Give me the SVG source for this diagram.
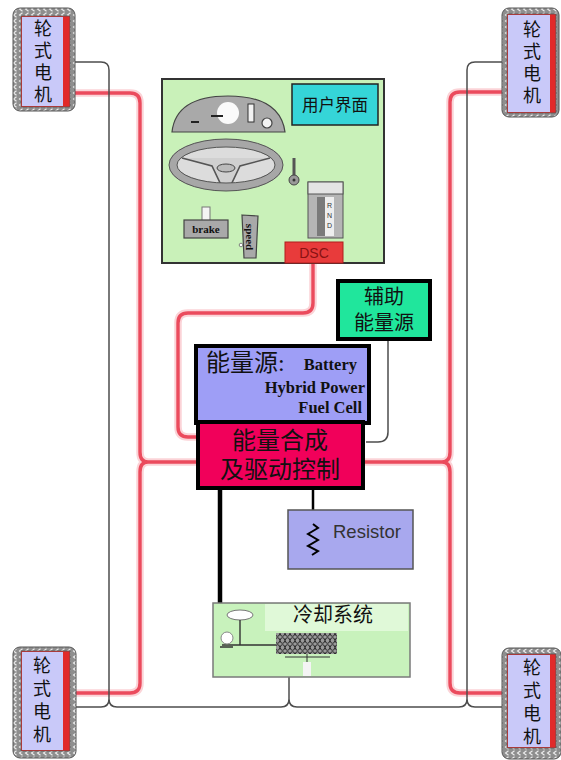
<svg xmlns="http://www.w3.org/2000/svg" width="561" height="760" viewBox="0 0 561 760">
  <defs>
    <style>
      .halo{fill:none;stroke:#fbd3d7;stroke-width:7.5;stroke-linejoin:round}
      .red{fill:none;stroke:#eb4b5d;stroke-width:3.4;stroke-linejoin:round}
      .gray{fill:none;stroke:#4d4d4d;stroke-width:1.5}
      .blk{fill:none;stroke:#000}
      .cjk{font-family:"Liberation Serif","Noto Sans CJK SC","Noto Sans CJK TC",serif;fill:#111}
      .ser{font-family:"Liberation Serif",serif;font-weight:bold;fill:#111}
      .sans{font-family:"Liberation Sans",Arial,sans-serif}
      .frame{fill:url(#chain);stroke:#555;stroke-width:1}
      .lav{fill:#c9c9f9}
      .strip{fill:#e12a2a}
      .mtxt{font-size:18px;writing-mode:vertical-rl;letter-spacing:4px}
      .box{stroke:#000;stroke-width:4}
    </style>
    <pattern id="chain" width="6" height="6" patternUnits="userSpaceOnUse">
      <rect width="6" height="6" fill="#8e8e8e"/>
      <path d="M4.5 0.8 L1.5 3 L4.5 5.2" fill="none" stroke="#ececec" stroke-width="1.1"/>
    </pattern>
    <pattern id="coil" width="5" height="7" patternUnits="userSpaceOnUse">
      <rect width="5" height="7" fill="#9a9a9a"/>
      <ellipse cx="2.5" cy="3.5" rx="2.2" ry="2.8" fill="none" stroke="#2a2a2a" stroke-width="1"/>
    </pattern>
  </defs>

  <rect width="561" height="760" fill="#ffffff"/>

  <!-- wiring -->
  <g id="connectors">
    <!-- power bus, left -->
    <path class="halo" d="M70 93 H130 Q140 93 140 103 V452 Q140 462 148 462 Q140 462 140 472 V683 Q140 693 130 693 H70 M148 462 H198"/>
    <path class="red" d="M70 93 H130 Q140 93 140 103 V452 Q140 462 148 462 Q140 462 140 472 V683 Q140 693 130 693 H70 M148 462 H198"/>
    <!-- power bus, right -->
    <path class="halo" d="M505 92 H460 Q450 92 450 102 V452 Q450 462 442 462 Q450 462 450 472 V683 Q450 693 460 693 H505 M442 462 H363"/>
    <path class="red" d="M505 92 H460 Q450 92 450 102 V452 Q450 462 442 462 Q450 462 450 472 V683 Q450 693 460 693 H505 M442 462 H363"/>
    <!-- DSC signal to drive control -->
    <path class="halo" d="M313 263 V303 Q313 313 303 313 H188 Q178 313 178 323 V427 Q178 437 188 437 H198"/>
    <path class="red" d="M313 263 V303 Q313 313 303 313 H188 Q178 313 178 323 V427 Q178 437 188 437 H198"/>

    <!-- signal lines -->
    <path class="gray" d="M75 62 H101 Q109 62 109 70 V699 Q109 707 101 707 H75 M109 699 Q109 707 117 707 H281 Q289 707 289 699 V677 M289 699 Q289 707 297 707 H459 Q467 707 467 699 Q467 707 475 707 H503 M467 699 V70 Q467 62 475 62 H503"/>
    <path class="gray" d="M388 340 V432 Q388 442 378 442 H366" stroke-width="1.8"/>

    <!-- drive control to cooling and resistor -->
    <path class="blk" d="M220 488 V603" stroke-width="4.5"/>
    <path class="blk" d="M313 488 V524" stroke-width="2.5"/>
  </g>

  <!-- wheel motors -->
  <g id="motor-top-left">
    <rect class="frame" x="13" y="8" width="62" height="103" rx="7"/>
    <rect class="strip" x="21" y="16" width="49" height="91" stroke="#555" stroke-width="0.8"/>
    <rect class="lav" x="22" y="17" width="41" height="89"/>
    <text class="cjk mtxt" x="41" y="19">轮式电机</text>
  </g>
  <g id="motor-bottom-left">
    <rect class="frame" x="13" y="647" width="63" height="111" rx="7"/>
    <rect class="strip" x="21" y="651" width="49" height="100" stroke="#555" stroke-width="0.8"/>
    <rect class="lav" x="22" y="652" width="41" height="98"/>
    <text class="cjk mtxt" x="40" y="656" style="letter-spacing:5px">轮式电机</text>
  </g>
  <g id="motor-top-right">
    <rect class="frame" x="502" y="8" width="57" height="109" rx="7"/>
    <rect class="strip" x="507" y="14" width="49" height="99" stroke="#555" stroke-width="0.8"/>
    <rect class="lav" x="508" y="15" width="42" height="97"/>
    <text class="cjk mtxt" x="530" y="20">轮式电机</text>
  </g>
  <g id="motor-bottom-right">
    <rect class="frame" x="502" y="648" width="59" height="111" rx="7"/>
    <rect class="strip" x="507" y="654" width="49" height="94" stroke="#555" stroke-width="0.8"/>
    <rect class="lav" x="508" y="655" width="42" height="92"/>
    <text class="cjk mtxt" x="530" y="658" style="letter-spacing:5px">轮式电机</text>
  </g>

  <!-- driver interface panel -->
  <g id="user-interface">
    <rect x="162" y="79" width="222" height="184" fill="#c9f1b9" stroke="#333" stroke-width="2"/>
    <!-- instrument cluster -->
    <path d="M172 132 Q176 96 228 96 Q280 96 285 132 Z" fill="#a9a9a9" stroke="#444" stroke-width="1.2"/>
    <circle cx="228" cy="113" r="11" fill="#fafafa"/>
    <path d="M211 116 H223 M191 122 H199" stroke="#222" stroke-width="2"/>
    <rect x="248" y="104" width="6" height="18" fill="#f2f2f2" stroke="#333" stroke-width="1"/>
    <circle cx="267" cy="123" r="5" fill="#f2f2f2" stroke="#444" stroke-width="1.2"/>
    <!-- steering wheel -->
    <ellipse cx="226" cy="165" rx="49" ry="18" fill="#dcdcdc"/>
    <path d="M182 158 L212 166 L222 187 L230 187 L240 166 L270 158" fill="#d0d0d0" stroke="#555" stroke-width="1.6"/>
    <ellipse cx="226" cy="165" rx="53" ry="22" fill="none" stroke="#a7a7a7" stroke-width="8"/>
    <ellipse cx="226" cy="165" rx="57" ry="26" fill="none" stroke="#555" stroke-width="1"/>
    <ellipse cx="226" cy="165" rx="49" ry="18" fill="none" stroke="#555" stroke-width="1"/>
    <ellipse cx="226" cy="168" rx="9" ry="4" fill="#bbb" stroke="#444" stroke-width="1"/>
    <!-- ignition key -->
    <path d="M294 158 V176" stroke="#555" stroke-width="3"/>
    <circle cx="294" cy="180" r="5" fill="#999" stroke="#444" stroke-width="1"/>
    <circle cx="294" cy="180" r="1.5" fill="#333"/>
    <!-- gear selector -->
    <rect x="308" y="182" width="35" height="56" fill="#b5b5b5" stroke="#555" stroke-width="1"/>
    <rect x="308" y="182" width="35" height="12" fill="#e4e4e4" stroke="#555" stroke-width="1"/>
    <rect x="317" y="197" width="8" height="39" fill="#7a7a7a"/>
    <rect x="325" y="197" width="9" height="39" fill="#eeeeee"/>
    <text class="sans" x="329.5" y="208" font-size="7" text-anchor="middle" fill="#333">R</text>
    <text class="sans" x="329.5" y="218" font-size="7" text-anchor="middle" fill="#333">N</text>
    <text class="sans" x="329.5" y="228" font-size="7" text-anchor="middle" fill="#333">D</text>
    <!-- brake pedal -->
    <rect x="202" y="207" width="8" height="14" fill="#f4f4f4" stroke="#777" stroke-width="1"/>
    <rect x="184" y="220" width="44" height="18" fill="#a9a9a9" stroke="#444" stroke-width="1.2"/>
    <text class="ser" x="206" y="233" font-size="11" text-anchor="middle">brake</text>
    <!-- accelerator pedal -->
    <path d="M242 215 L258 216 L256 258 L244 258 Z" fill="#a9a9a9" stroke="#444" stroke-width="1.2"/>
    <circle cx="241" cy="245" r="1.8" fill="#fff" stroke="#666" stroke-width="0.8"/>
    <text class="ser" x="0" y="0" font-size="11" text-anchor="middle" transform="translate(246 237) rotate(90)">speed</text>
    <!-- stability control -->
    <rect x="285" y="242" width="58" height="21" fill="#e83b3b" stroke="#b01e1e" stroke-width="1"/>
    <text class="sans" x="314" y="258" font-size="14" text-anchor="middle" fill="#8a1212">DSC</text>
    <!-- label -->
    <rect x="292" y="84" width="86" height="41" fill="#35d5d8" stroke="#222" stroke-width="1.5"/>
    <text class="cjk" x="335" y="111" font-size="16.5" text-anchor="middle">用户界面</text>
  </g>

  <g id="aux-energy">
    <rect class="box" x="338" y="281" width="92" height="58" fill="#20e69c"/>
    <text class="cjk" x="384" y="304" font-size="20" text-anchor="middle">辅助</text>
    <text class="cjk" x="384" y="330" font-size="20" text-anchor="middle">能量源</text>
  </g>

  <g id="energy-source">
    <rect class="box" x="196" y="346" width="173" height="77" fill="#9e9ef6"/>
    <text class="cjk" x="206" y="371" font-size="24">能量源:</text>
    <text class="ser" x="357" y="370" font-size="16.5" text-anchor="end">Battery</text>
    <text class="ser" x="365" y="393" font-size="16.5" text-anchor="end">Hybrid Power</text>
    <text class="ser" x="362" y="413" font-size="16.5" text-anchor="end">Fuel Cell</text>
  </g>

  <g id="drive-control">
    <rect class="box" x="198" y="422" width="165" height="66" fill="#f1005a"/>
    <text class="cjk" x="280" y="449" font-size="24" text-anchor="middle">能量合成</text>
    <text class="cjk" x="280" y="478" font-size="24" text-anchor="middle">及驱动控制</text>
  </g>

  <g id="resistor">
    <rect x="288" y="510" width="125" height="59" fill="#a8a8ee" stroke="#555" stroke-width="1.5"/>
    <path d="M313 524 L318 528 L308 534 L318 540 L308 546 L318 551 L312 555" fill="none" stroke="#000" stroke-width="2"/>
    <text class="sans" x="333" y="538" font-size="18.5" fill="#333">Resistor</text>
  </g>

  <g id="cooling-system">
    <rect x="213" y="603" width="197" height="74" fill="#c8f2bc" stroke="#7a7a7a" stroke-width="1.5"/>
    <rect x="265" y="604" width="143" height="27" fill="#e0f9d8"/>
    <text class="cjk" x="333" y="622" font-size="20" text-anchor="middle">冷却系统</text>
    <ellipse cx="240" cy="615" rx="13" ry="5" fill="#fff" stroke="#777" stroke-width="1"/>
    <path d="M240 620 V645 M222 645 H277 M220 647 H233" fill="none" stroke="#333" stroke-width="1.4"/>
    <circle cx="227" cy="638" r="6" fill="#fff" stroke="#888" stroke-width="1"/>
    <rect x="276" y="633" width="61" height="21" fill="url(#coil)"/>
    <path d="M285 657 H330 M307 654 V662" fill="none" stroke="#333" stroke-width="1"/>
    <rect x="303" y="662" width="8" height="14" fill="#f4f4f4"/>
  </g>
</svg>
